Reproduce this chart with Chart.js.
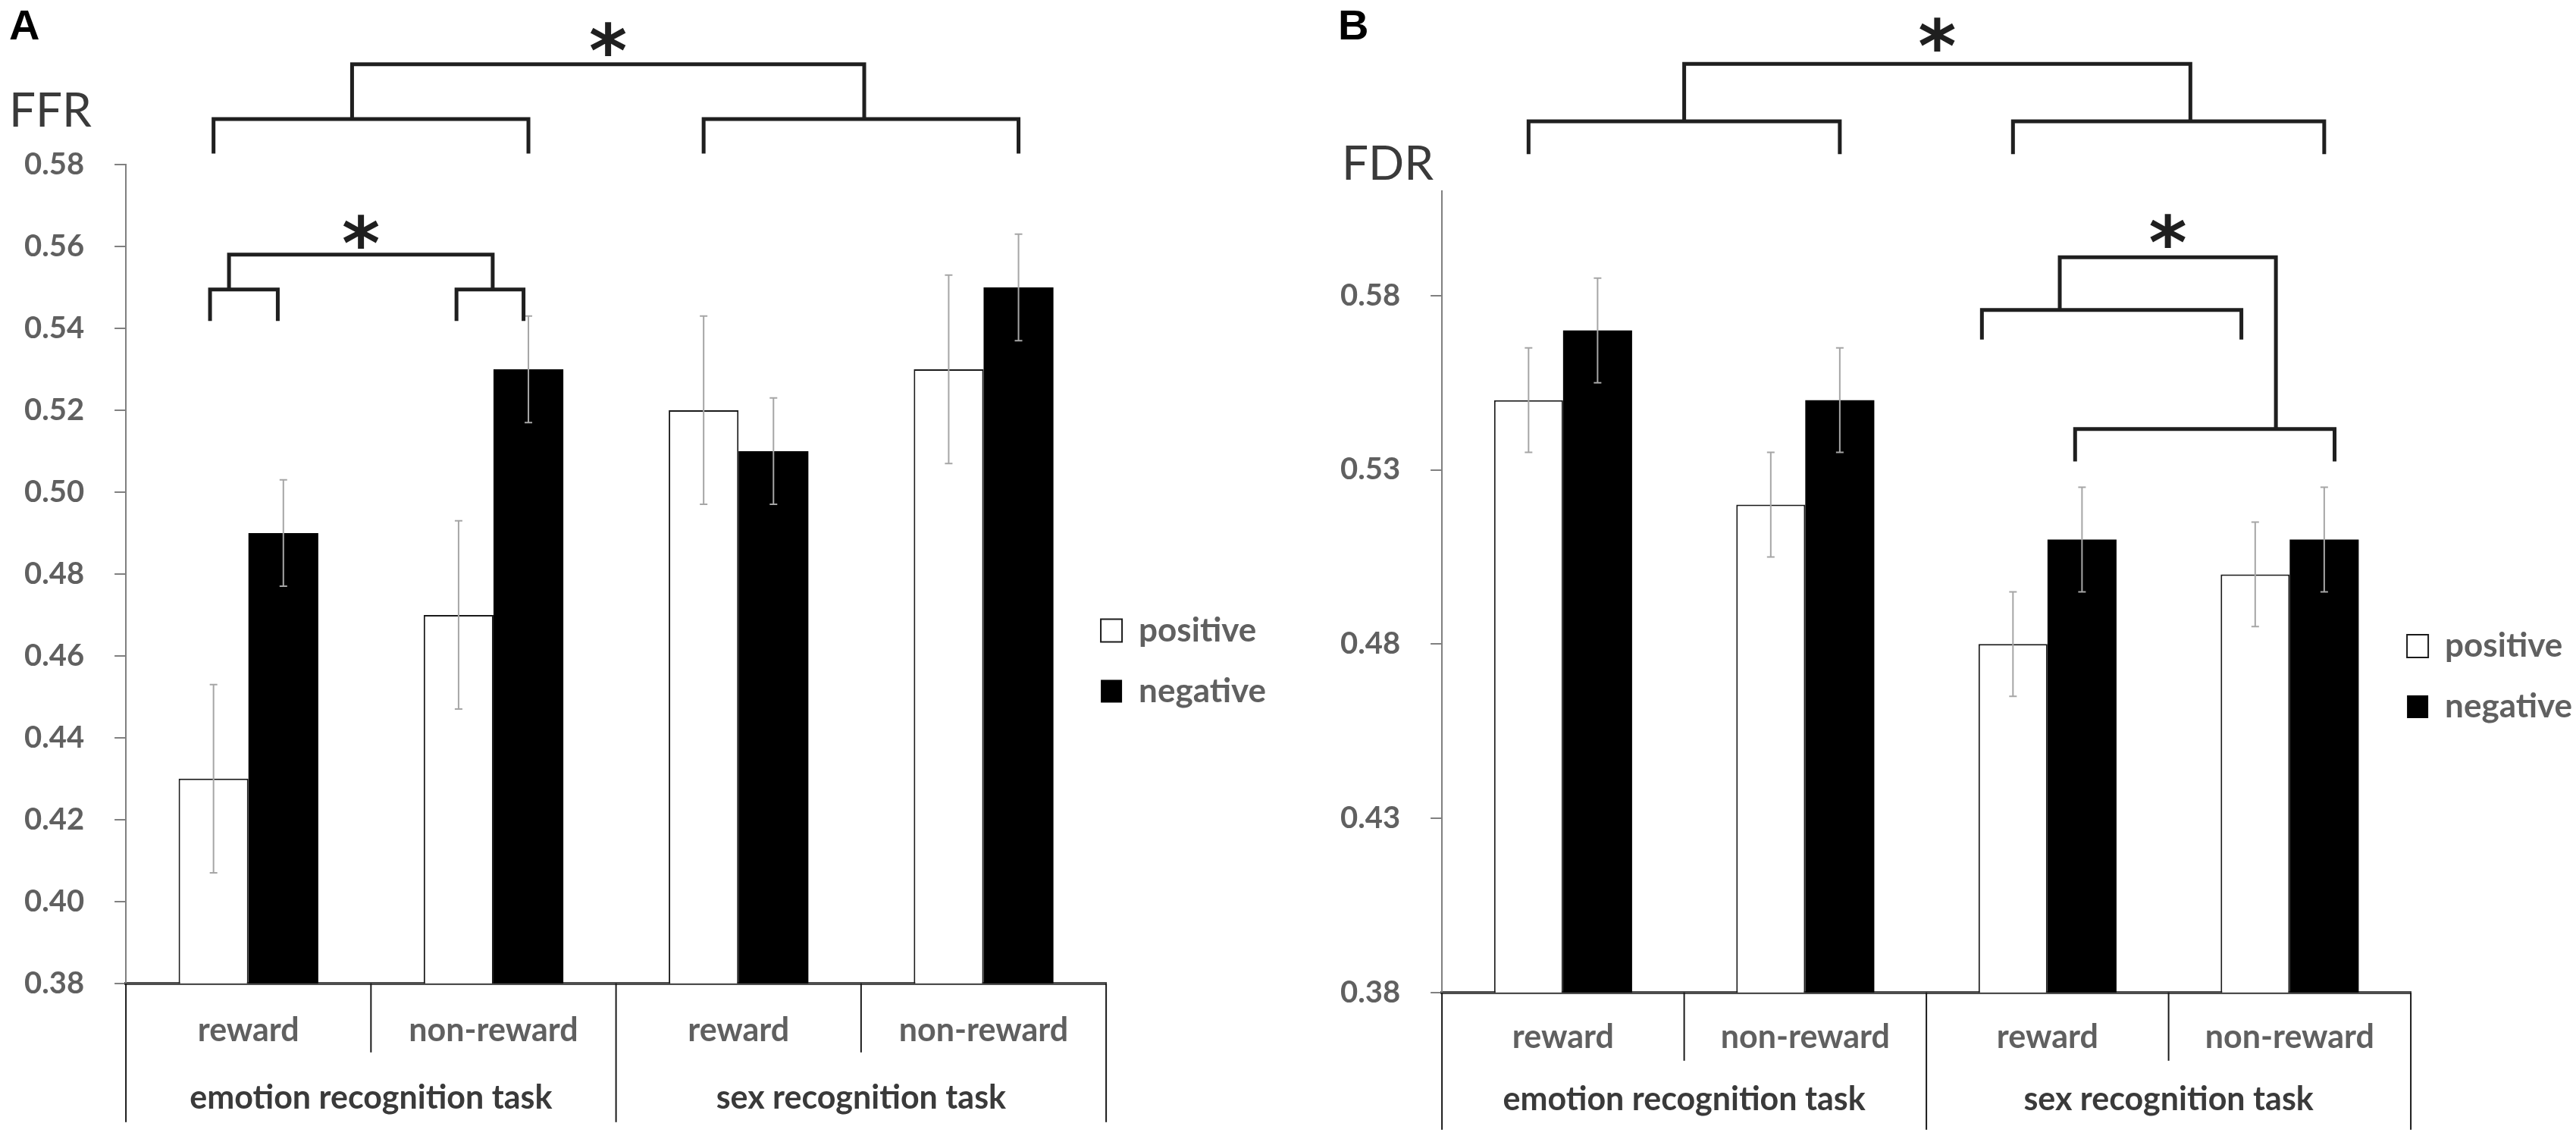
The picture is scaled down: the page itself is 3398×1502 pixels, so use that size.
<!DOCTYPE html>
<html>
<head>
<meta charset="utf-8">
<script src="https://cdn.jsdelivr.net/npm/chart.js@4.4.1/dist/chart.umd.min.js"></script>
<style>
  html, body { margin: 0; padding: 0; background: #fff; overflow: hidden; }
  #wrap { position: relative; width: 3398px; height: 1502px; }
  canvas { position: absolute; top: 0; }
  #chartA { left: 0; z-index: 1; }
  #chartB { left: 1700px; z-index: 2; }
</style>
</head>
<body>
<div id="wrap">
  <canvas id="chartA" width="1760" height="1502"></canvas>
  <canvas id="chartB" width="1790" height="1502"></canvas>
</div>
<script>
// Categories
const conditions = ['reward', 'non-reward', 'reward', 'non-reward'];
const tasks = ['emotion recognition task', 'sex recognition task'];
const seriesNames = ['positive', 'negative'];

// Panel A - FFR
const ffrPositive = [0.43, 0.47, 0.52, 0.53];
const ffrNegative = [0.49, 0.53, 0.51, 0.55];
const ffrPositiveErr = [0.023, 0.023, 0.023, 0.023];
const ffrNegativeErr = [0.013, 0.013, 0.013, 0.013];
const ffrTicks = [0.38, 0.40, 0.42, 0.44, 0.46, 0.48, 0.50, 0.52, 0.54, 0.56, 0.58];

// Panel B - FDR
const fdrPositive = [0.55, 0.52, 0.48, 0.50];
const fdrNegative = [0.57, 0.55, 0.51, 0.51];
const fdrPositiveErr = [0.015, 0.015, 0.015, 0.015];
const fdrNegativeErr = [0.015, 0.015, 0.015, 0.015];
const fdrTicks = [0.38, 0.43, 0.48, 0.53, 0.58];

const FONT = 'Lato, "Open Sans", sans-serif';
const GREY = '#606060';

// Error bars drawn over each bar
const errorBarsPlugin = {
    id: 'errorBars',
    afterDatasetsDraw(chart, args, opts) {
        const ctx = chart.ctx;
        const y = chart.scales.y;
        ctx.save();
        ctx.strokeStyle = opts.color;
        ctx.lineWidth = opts.width;
        chart.data.datasets.forEach((ds, d) => {
            const meta = chart.getDatasetMeta(d);
            meta.data.forEach((bar, i) => {
                const err = opts.errors[d][i];
                const top = y.getPixelForValue(ds.data[i] + err);
                const bot = y.getPixelForValue(ds.data[i] - err);
                const c = opts.cap / 2;
                ctx.beginPath();
                ctx.moveTo(bar.x, top); ctx.lineTo(bar.x, bot);
                ctx.moveTo(bar.x - c, top); ctx.lineTo(bar.x + c, top);
                ctx.moveTo(bar.x - c, bot); ctx.lineTo(bar.x + c, bot);
                ctx.stroke();
            });
        });
        ctx.restore();
    }
};

// Table-like divider lines under the x axis (short between conditions, long between tasks)
const dividerPlugin = {
    id: 'dividers',
    afterDraw(chart, args, opts) {
        const ctx = chart.ctx;
        const x = chart.scales.x;
        const area = chart.chartArea;
        const n = x.ticks.length;
        const step = x.getPixelForValue(1) - x.getPixelForValue(0);
        ctx.save();
        ctx.strokeStyle = opts.color;
        ctx.lineWidth = opts.width;
        for (let k = 0; k <= n; k++) {
            const px = x.getPixelForValue(0) - step / 2 + k * step;
            const len = (k % 2 === 0) ? opts.long : opts.short;
            ctx.beginPath();
            ctx.moveTo(px, area.bottom);
            ctx.lineTo(px, area.bottom + len);
            ctx.stroke();
        }
        ctx.restore();
    }
};

// Significance brackets and asterisks, positioned from bars and y scale
const bracketPlugin = {
    id: 'brackets',
    afterDraw(chart, args, opts) {
        const ctx = chart.ctx;
        const y = chart.scales.y;
        const done = {};
        const endPoint = (ref, spec) => {
            if (ref.on) {
                const b = done[ref.on];
                return { x: b.x1 + ref.t * (b.x2 - b.x1), bottom: b.y };
            }
            const bar = chart.getDatasetMeta(ref.bar[0]).data[ref.bar[1]];
            const x = bar.x + (ref.dx || 0) * bar.width;
            const bottom = ref.downTo ? done[ref.downTo].y : y.getPixelForValue(spec.drop);
            return { x, bottom };
        };
        ctx.save();
        ctx.strokeStyle = opts.color;
        ctx.lineWidth = opts.width;
        ctx.lineJoin = 'miter';
        opts.items.forEach(spec => {
            const a = endPoint(spec.left, spec);
            const b = endPoint(spec.right, spec);
            const yy = y.getPixelForValue(spec.y);
            ctx.beginPath();
            ctx.moveTo(a.x, a.bottom);
            ctx.lineTo(a.x, yy);
            ctx.lineTo(b.x, yy);
            ctx.lineTo(b.x, b.bottom);
            ctx.stroke();
            done[spec.id] = { x1: a.x, x2: b.x, y: yy };
        });
        ctx.fillStyle = opts.color;
        ctx.font = opts.starFont;
        ctx.textAlign = 'center';
        ctx.textBaseline = 'alphabetic';
        opts.stars.forEach(s => {
            const b = done[s.over];
            const m = ctx.measureText('*');
            const cy = y.getPixelForValue(s.y);
            ctx.fillText('*', (b.x1 + b.x2) / 2, cy + (m.actualBoundingBoxAscent - m.actualBoundingBoxDescent) / 2);
        });
        ctx.restore();
    }
};

// Panel letter and horizontal y-axis title
const panelTextPlugin = {
    id: 'panelText',
    afterDraw(chart, args, opts) {
        const ctx = chart.ctx;
        ctx.save();
        ctx.textAlign = 'left';
        ctx.textBaseline = 'alphabetic';
        opts.items.forEach(t => {
            ctx.font = t.font;
            ctx.fillStyle = t.color;
            ctx.fillText(t.text, t.x, t.y);
        });
        ctx.restore();
    }
};

// Slide the legend so it sits right at the axis end like the original
const legendNudgePlugin = {
    id: 'legendNudge',
    afterLayout(chart, args, opts) {
        const l = chart.legend;
        const w = l.right - l.left;
        l.left = chart.chartArea.right + opts.dx;
        l.right = l.left + w;
        l.top += opts.dy;
        l.bottom += opts.dy;
    }
};

function buildPanel(id, cfg) {
    return new Chart(document.getElementById(id), {
        type: 'bar',
        data: {
            labels: conditions,
            datasets: [
                {
                    label: seriesNames[0],
                    data: cfg.pos,
                    backgroundColor: '#ffffff',
                    borderColor: '#1a1a1a',
                    borderWidth: 2
                },
                {
                    label: seriesNames[1],
                    data: cfg.neg,
                    backgroundColor: '#000000',
                    borderColor: '#000000',
                    borderWidth: 0
                }
            ]
        },
        options: {
            responsive: false,
            animation: false,
            devicePixelRatio: 1,
            layout: { padding: cfg.padding },
            datasets: { bar: { categoryPercentage: 0.57, barPercentage: 1 } },
            scales: {
                x: {
                    type: 'category',
                    offset: true,
                    weight: 0,
                    grid: { display: false, drawTicks: false },
                    border: { display: true, color: '#4d4d4d', width: 4 },
                    ticks: { font: { family: FONT, size: 43, weight: 'bold' }, color: GREY, padding: cfg.xPad, maxRotation: 0, autoSkip: false }
                },
                x2: {
                    type: 'category',
                    position: 'bottom',
                    labels: tasks,
                    offset: true,
                    weight: 1,
                    display: true,
                    grid: { display: false, drawTicks: false },
                    border: { display: false },
                    ticks: { font: { family: FONT, size: 43, weight: 'bold' }, color: '#3a3a3a', padding: cfg.x2Pad, maxRotation: 0, autoSkip: false }
                },
                y: {
                    min: cfg.ticks[0],
                    max: cfg.yMax,
                    afterBuildTicks: axis => { axis.ticks = cfg.ticks.map(v => ({ value: v })); },
                    grid: { display: true, drawOnChartArea: false, tickLength: 15, color: '#808080', lineWidth: 2 },
                    border: { display: true, color: '#808080', width: 2 },
                    ticks: {
                        font: { family: FONT, size: 40, weight: 'bold' },
                        color: GREY,
                        padding: 40,
                        callback: v => Number(v).toFixed(2)
                    }
                }
            },
            plugins: {
                legend: {
                    position: 'right',
                    align: 'center',
                    labels: {
                        boxWidth: 28,
                        boxHeight: 30,
                        padding: 36,
                        color: GREY,
                        font: { family: FONT, size: 44, weight: 'bold' }
                    }
                },
                tooltip: { enabled: false },
                errorBars: { errors: [cfg.posErr, cfg.negErr], color: '#a6a6a6', width: 2, cap: 10 },
                dividers: { color: '#1a1a1a', width: 2, short: cfg.divShort, long: cfg.divLong },
                brackets: { items: cfg.brackets, stars: cfg.stars, color: '#1f1f1f', width: 5, starFont: 'bold 96px "DejaVu Sans"' },
                panelText: { items: cfg.texts },
                legendNudge: cfg.legendNudge
            }
        },
        plugins: [errorBarsPlugin, dividerPlugin, bracketPlugin, panelTextPlugin, legendNudgePlugin]
    });
}

buildPanel('chartA', {
    pos: ffrPositive, neg: ffrNegative,
    posErr: ffrPositiveErr, negErr: ffrNegativeErr,
    ticks: ffrTicks, yMax: 0.58,
    padding: { top: 217, left: -8, right: 37, bottom: 28 },
    xPad: 37, x2Pad: 0,
    divShort: 91, divLong: 183,
    legendNudge: { dx: -43, dy: 26 },
    brackets: [
        { id: 's1', left: { bar: [0, 0] }, right: { bar: [1, 1] }, y: 0.5911, drop: 0.5827 },
        { id: 's2', left: { bar: [0, 2] }, right: { bar: [1, 3] }, y: 0.5911, drop: 0.5827 },
        { id: 'top', left: { on: 's1', t: 0.44 }, right: { on: 's2', t: 0.51 }, y: 0.6045 },
        { id: 'r1', left: { bar: [0, 0], dx: -0.05 }, right: { bar: [1, 0], dx: -0.08 }, y: 0.5495, drop: 0.5418 },
        { id: 'r2', left: { bar: [0, 1], dx: -0.03 }, right: { bar: [1, 1], dx: -0.07 }, y: 0.5495, drop: 0.5418 },
        { id: 'low', left: { on: 'r1', t: 0.28 }, right: { on: 'r2', t: 0.54 }, y: 0.5580 }
    ],
    stars: [{ over: 'top', y: 0.6107 }, { over: 'low', y: 0.5636 }],
    texts: [
        { text: 'A', x: 12, y: 52, font: 'bold 56px "Liberation Sans"', color: '#000' },
        { text: 'FFR', x: 12, y: 167, font: '62px ' + FONT, color: '#3a3a3a' }
    ]
});

buildPanel('chartB', {
    pos: fdrPositive, neg: fdrNegative,
    posErr: fdrPositiveErr, negErr: fdrNegativeErr,
    ticks: fdrTicks, yMax: 0.61,
    padding: { top: 252, left: 28, right: 46, bottom: 30 },
    xPad: 34, x2Pad: -4,
    divShort: 90, divLong: 181,
    legendNudge: { dx: -41, dy: 30 },
    brackets: [
        { id: 's1', left: { bar: [0, 0] }, right: { bar: [1, 1] }, y: 0.6300, drop: 0.6206 },
        { id: 's2', left: { bar: [0, 2] }, right: { bar: [1, 3] }, y: 0.6300, drop: 0.6206 },
        { id: 'top', left: { on: 's1', t: 0.5 }, right: { on: 's2', t: 0.57 }, y: 0.6465 },
        { id: 'upper', left: { bar: [0, 2], dx: -0.45 }, right: { bar: [0, 3], dx: -0.2 }, y: 0.5759, drop: 0.5674 },
        { id: 'lower', left: { bar: [1, 2], dx: -0.1 }, right: { bar: [1, 3], dx: 0.15 }, y: 0.5417, drop: 0.5324 },
        { id: 'mid', left: { on: 'upper', t: 0.3 }, right: { bar: [0, 3], dx: 0.3, downTo: 'lower' }, y: 0.591 }
    ],
    stars: [{ over: 'top', y: 0.6549 }, { over: 'mid', y: 0.5986 }],
    texts: [
        { text: 'B', x: 65, y: 52, font: 'bold 56px "Liberation Sans"', color: '#000' },
        { text: 'FDR', x: 70, y: 237, font: '62px ' + FONT, color: '#3a3a3a' }
    ]
});
</script>
</body>
</html>
